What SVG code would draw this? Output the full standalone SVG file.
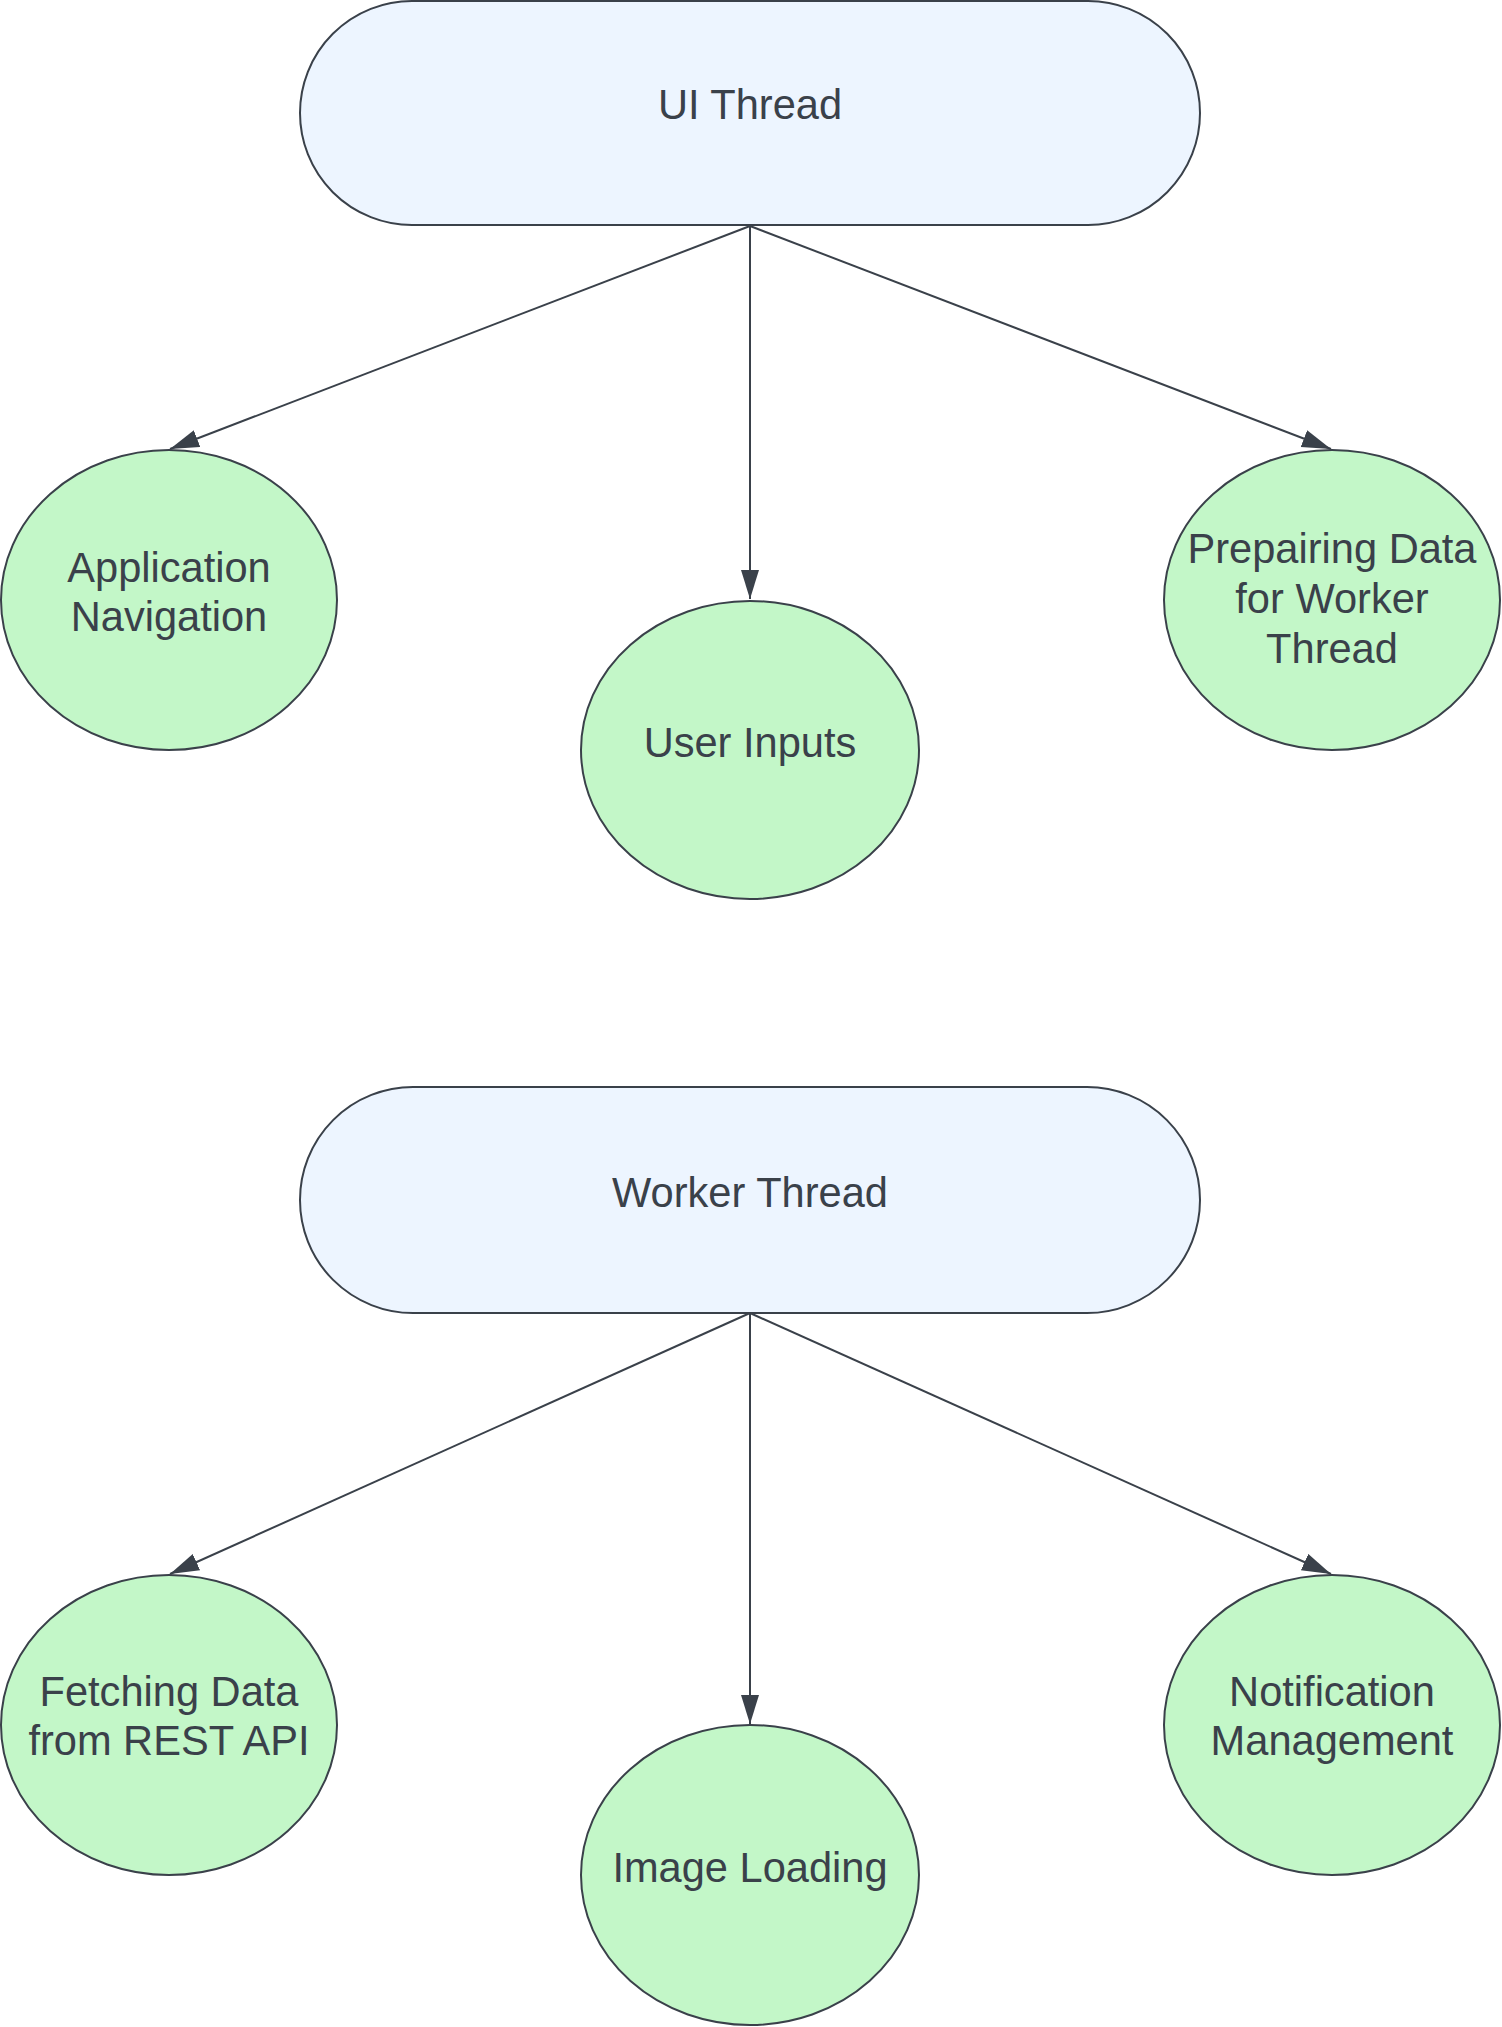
<svg xmlns="http://www.w3.org/2000/svg" width="1502" height="2027" viewBox="0 0 1502 2027">
<defs>
<style>
.pill{fill:#edf5ff;stroke:#3a414a;stroke-width:2}
.oval{fill:#c3f7c8;stroke:#3a414a;stroke-width:2}
.lbl{font-family:"Liberation Sans",Arial,sans-serif;font-size:41.6px;fill:#3a414a;text-anchor:middle}
.conn{stroke:#3a414a;stroke-width:2;fill:none;marker-end:url(#ah)}
</style>
<marker id="ah" markerUnits="userSpaceOnUse" markerWidth="30" markerHeight="20" viewBox="0 0 30 20" refX="29" refY="9" orient="auto">
<path d="M0,0 L29,9 L0,18 Z" fill="#3a414a"/>
</marker>
</defs>
<rect width="1502" height="2027" fill="#ffffff"/>
<g id="connectors">
<line class="conn" x1="750" y1="226" x2="170" y2="449"/>
<line class="conn" x1="750" y1="226" x2="750" y2="599"/>
<line class="conn" x1="750" y1="226" x2="1331" y2="449"/>
<line class="conn" x1="750" y1="1313" x2="170" y2="1574"/>
<line class="conn" x1="750" y1="1313" x2="750" y2="1724"/>
<line class="conn" x1="750" y1="1313" x2="1331" y2="1574"/>
</g>
<g id="ui-thread">
<rect class="pill" x="300" y="1" width="900" height="224" rx="112" ry="112"/>
<text class="lbl" x="750" y="119">UI Thread</text>
</g>
<g id="app-navigation">
<ellipse class="oval" cx="169" cy="600" rx="168" ry="150"/>
<text class="lbl" x="169" y="582">Application</text>
<text class="lbl" x="169" y="631">Navigation</text>
</g>
<g id="user-inputs">
<ellipse class="oval" cx="750" cy="750" rx="169" ry="149"/>
<text class="lbl" x="750" y="757">User Inputs</text>
</g>
<g id="prepairing-data">
<ellipse class="oval" cx="1332" cy="600" rx="168" ry="150"/>
<text class="lbl" x="1332" y="563">Prepairing Data</text>
<text class="lbl" x="1332" y="613">for Worker</text>
<text class="lbl" x="1332" y="663">Thread</text>
</g>
<g id="worker-thread">
<rect class="pill" x="300" y="1087" width="900" height="226" rx="113" ry="113"/>
<text class="lbl" x="750" y="1207">Worker Thread</text>
</g>
<g id="fetching-data">
<ellipse class="oval" cx="169" cy="1725" rx="168" ry="150"/>
<text class="lbl" x="169" y="1706">Fetching Data</text>
<text class="lbl" x="169" y="1755">from REST API</text>
</g>
<g id="image-loading">
<ellipse class="oval" cx="750" cy="1875" rx="169" ry="150"/>
<text class="lbl" x="750" y="1882">Image Loading</text>
</g>
<g id="notification-management">
<ellipse class="oval" cx="1332" cy="1725" rx="168" ry="150"/>
<text class="lbl" x="1332" y="1706">Notification</text>
<text class="lbl" x="1332" y="1755">Management</text>
</g>
</svg>
